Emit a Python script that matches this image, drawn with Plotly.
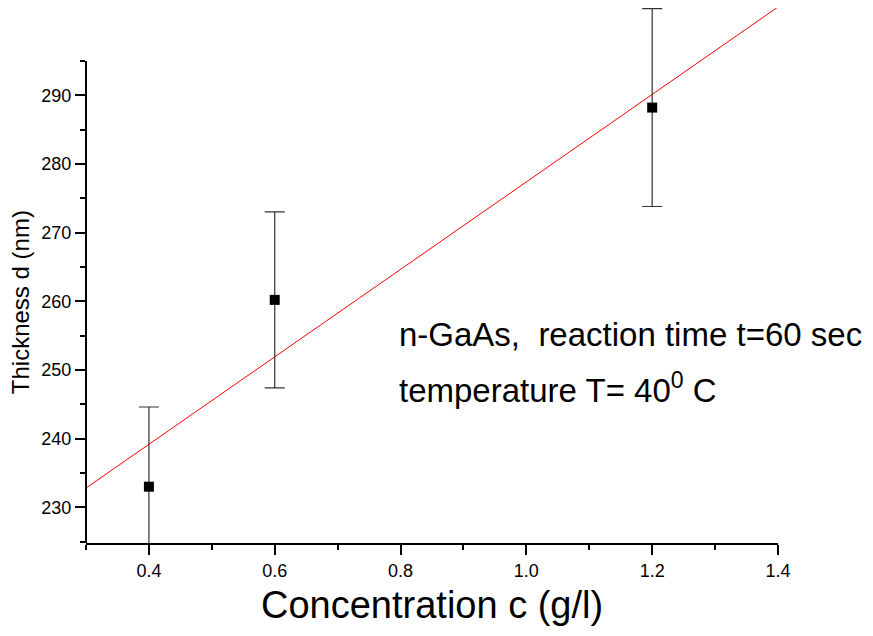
import plotly.graph_objects as go

# ---- data ----
conc = [0.4, 0.6, 1.2]
thickness = [233.0, 260.2, 288.2]
thickness_err = [11.6, 12.8, 14.4]

fit_x = [0.3, 1.4]
fit_y = [232.8, 302.85]

x_ticks = [0.4, 0.6, 0.8, 1.0, 1.2, 1.4]
x_tick_labels = ["0.4", "0.6", "0.8", "1.0", "1.2", "1.4"]
x_minor = [0.3, 0.5, 0.7, 0.9, 1.1, 1.3]
y_ticks = [230, 240, 250, 260, 270, 280, 290]
y_tick_labels = ["230", "240", "250", "260", "270", "280", "290"]
y_minor = [225, 235, 245, 255, 265, 275, 285, 295]

x_range = [0.3, 1.4]
y_range = [224.8, 302.7]
y_axis_top = 295

sans = "Liberation Sans, Arial, sans-serif"

fig = go.Figure()

fig.add_trace(go.Scatter(
    x=fit_x, y=fit_y, mode="lines",
    line=dict(color="#ff0000", width=1),
    hoverinfo="skip", showlegend=False,
))

fig.add_trace(go.Scatter(
    x=conc, y=thickness, mode="markers",
    marker=dict(symbol="square", size=10, color="black"),
    error_y=dict(type="data", array=thickness_err, visible=True,
                 color="#333333", thickness=1.2, width=10),
    showlegend=False,
))

# y axis line only up to 295 (as in reference); paper refs so it is not clipped
axis_top_frac = (y_axis_top - y_range[0]) / (y_range[1] - y_range[0])
fig.add_shape(type="line", xref="paper", yref="paper",
              x0=0, x1=0, y0=0, y1=axis_top_frac,
              line=dict(color="black", width=2))

fig.add_annotation(
    text="n-GaAs,  reaction time t=60 sec", xref="paper", yref="paper",
    x=0.45, y=0.389, xanchor="left", yanchor="middle", showarrow=False,
    font=dict(family=sans, size=33, color="black"),
)
fig.add_annotation(
    text="temperature T= 40<sup>0</sup> C", xref="paper", yref="paper",
    x=0.45, y=0.290, xanchor="left", yanchor="middle", showarrow=False,
    font=dict(family=sans, size=33, color="black"),
)
# y title
fig.add_annotation(
    text="Thickness d (nm)", xref="paper", yref="paper",
    x=-0.0955, y=0.450, xanchor="center", yanchor="middle", showarrow=False,
    textangle=-90, borderpad=0,
    font=dict(family=sans, size=24, color="black"),
)
# x title
fig.add_annotation(
    text="Concentration c (g/l)", xref="paper", yref="paper",
    x=0.5, y=-0.116, xanchor="center", yanchor="middle", showarrow=False,
    font=dict(family=sans, size=38, color="black"),
)

fig.update_layout(
    width=873, height=636,
    margin=dict(l=78, r=103, t=0, b=101, autoexpand=False),
    paper_bgcolor="white", plot_bgcolor="white",
    showlegend=False,
    xaxis=dict(
        range=x_range, showgrid=False, zeroline=False,
        showline=True, linecolor="black", linewidth=2,
        tickmode="array", tickvals=x_ticks, ticktext=x_tick_labels,
        ticks="outside", ticklen=10, tickwidth=2, tickcolor="black",
        tickfont=dict(family=sans, size=18, color="black"),
        minor=dict(tickvals=x_minor, ticks="outside", ticklen=5,
                   tickwidth=2, tickcolor="black", showgrid=False),
    ),
    yaxis=dict(
        range=y_range, showgrid=False, zeroline=False, showline=False,
        tickmode="array", tickvals=y_ticks, ticktext=y_tick_labels,
        ticks="outside", ticklen=10, tickwidth=2, tickcolor="black",
        tickfont=dict(family=sans, size=18, color="black"),
        minor=dict(tickvals=y_minor, ticks="outside", ticklen=5,
                   tickwidth=2, tickcolor="black", showgrid=False),
    ),
)

fig.write_html("out.html")
